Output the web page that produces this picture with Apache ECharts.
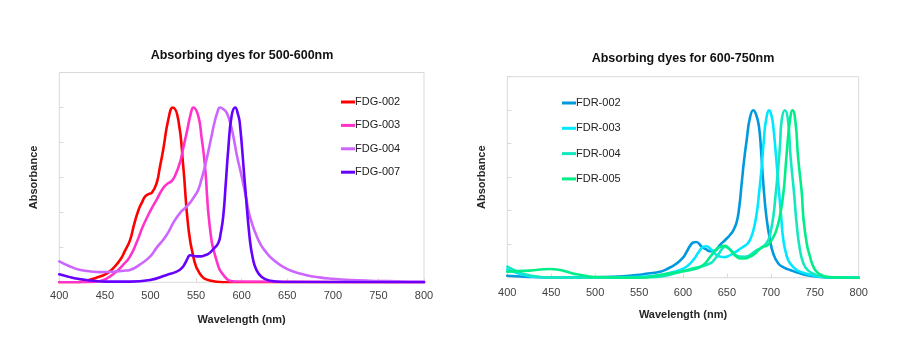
<!DOCTYPE html>
<html>
<head>
<meta charset="utf-8">
<script src="https://cdn.jsdelivr.net/npm/echarts@6/dist/echarts.min.js"></script>
<style>
html,body{margin:0;padding:0;background:#fff;}
#c{width:908px;height:338px;}
</style>
</head>
<body>
<div id="c"></div>
<script>
// ---- Data ----
var titles = ['Absorbing dyes for 500-600nm', 'Absorbing dyes for 600-750nm'];
var xTicks = [400, 450, 500, 550, 600, 650, 700, 750, 800];
var xName = 'Wavelength (nm)';
var yName = 'Absorbance';

var namesG = ['FDG-002', 'FDG-003', 'FDG-004', 'FDG-007'];
var namesR = ['FDR-002', 'FDR-003', 'FDR-004', 'FDR-005'];

var fdg002X = [400, 420, 426, 440, 452, 460, 467, 472, 477.5, 482, 487, 491, 494, 498, 501.5, 506.8, 510, 514, 519.5, 524.5, 530.5, 536, 541.4, 547, 554, 565, 580, 800];
var fdg002Y = [0, 0, 0.005, 0.025, 0.05, 0.085, 0.13, 0.18, 0.24, 0.33, 0.415, 0.46, 0.49, 0.505, 0.512, 0.568, 0.65, 0.76, 0.93, 1.0, 0.93, 0.66, 0.32, 0.147, 0.05, 0.01, 0, 0];

var fdg003X = [400, 430, 445, 460, 470, 477.5, 485, 491.7, 500, 506.8, 514, 519, 523, 527, 532.3, 536, 539.7, 544, 547, 552.4, 556, 559.8, 565, 572.3, 581.4, 592, 800];
var fdg003Y = [0, 0, 0.008, 0.05, 0.1, 0.147, 0.23, 0.32, 0.41, 0.473, 0.54, 0.565, 0.578, 0.61, 0.684, 0.77, 0.856, 0.96, 1.0, 0.952, 0.83, 0.664, 0.32, 0.128, 0.032, 0.005, 0];

var fdg004X = [400, 410, 422, 435, 445, 458, 470, 477.5, 488, 499.5, 507, 514, 520, 525, 532.3, 538, 543.3, 548, 552.4, 556, 559.8, 563.5, 567, 570, 573.3, 576.2, 580, 583.5, 587, 590.8, 595, 600, 605, 609, 618, 627, 635, 645, 655, 670, 685, 700, 720, 740, 760, 780, 800];
var fdg004Y = [0.12, 0.095, 0.072, 0.062, 0.058, 0.06, 0.066, 0.071, 0.1, 0.147, 0.2, 0.243, 0.29, 0.34, 0.396, 0.425, 0.454, 0.49, 0.53, 0.59, 0.664, 0.75, 0.837, 0.91, 0.971, 1.0, 0.99, 0.97, 0.92, 0.837, 0.72, 0.607, 0.48, 0.377, 0.245, 0.17, 0.128, 0.09, 0.065, 0.042, 0.028, 0.02, 0.013, 0.009, 0.007, 0.005, 0.004];

var fdg007X = [400, 410, 420, 435, 450, 477.5, 499.5, 517.8, 528.7, 534, 538, 541, 543.3, 547, 550.6, 555, 559.8, 564, 568.9, 574.4, 577, 579.8, 582.5, 585.3, 589, 593, 596, 598, 603.5, 609, 612.5, 616.3, 622, 630, 645, 800];
var fdg007Y = [0.046, 0.032, 0.02, 0.01, 0.004, 0.004, 0.013, 0.042, 0.061, 0.08, 0.109, 0.14, 0.155, 0.152, 0.148, 0.148, 0.155, 0.165, 0.19, 0.225, 0.28, 0.377, 0.56, 0.76, 0.952, 1.0, 0.96, 0.91, 0.568, 0.243, 0.13, 0.07, 0.03, 0.01, 0.002, 0];

var fdr002X = [400, 420, 450, 480, 500, 520, 547, 560, 573.8, 583, 592.8, 600, 604.2, 608, 611.7, 615, 621.3, 626, 630.7, 636, 642, 648, 653.5, 657, 661, 664, 666.8, 669.5, 672.5, 676, 680, 683.5, 686.5, 689, 691.4, 695, 699, 703, 708.5, 715, 721.8, 733.2, 745, 760, 780, 800];
var fdr002Y = [0.012, 0.006, 0.002, 0.002, 0.002, 0.005, 0.016, 0.025, 0.035, 0.055, 0.085, 0.12, 0.155, 0.19, 0.21, 0.213, 0.185, 0.17, 0.158, 0.16, 0.195, 0.225, 0.255, 0.28, 0.33, 0.42, 0.563, 0.7, 0.822, 0.95, 1.0, 0.97, 0.901, 0.75, 0.563, 0.36, 0.225, 0.14, 0.085, 0.06, 0.046, 0.026, 0.012, 0.003, 0, 0];

var fdr003X = [400, 410, 420, 430, 450, 500, 550, 574, 590, 596.6, 605, 611.7, 617.5, 623.1, 627, 630.7, 634.5, 638.3, 643, 647.8, 652, 657.3, 663, 668.6, 673, 676.2, 680, 683.9, 686.5, 689.6, 692, 694.5, 698.2, 701, 702.8, 705.5, 708.5, 711.5, 714.2, 718, 721.8, 729.4, 737, 745, 756, 770, 800];
var fdr003Y = [0.05, 0.03, 0.015, 0.006, 0.002, 0, 0.005, 0.016, 0.035, 0.046, 0.07, 0.106, 0.15, 0.185, 0.188, 0.175, 0.155, 0.135, 0.125, 0.123, 0.13, 0.145, 0.165, 0.185, 0.2, 0.225, 0.28, 0.384, 0.5, 0.662, 0.82, 0.94, 1.0, 0.96, 0.901, 0.75, 0.563, 0.38, 0.225, 0.13, 0.086, 0.046, 0.03, 0.018, 0.006, 0.001, 0];

var fdr004X = [400, 410, 420, 435, 450, 500, 550, 573.8, 590, 611.7, 630.7, 636, 641, 645, 648, 652, 655.4, 660, 665, 670, 674.4, 679, 683.9, 691.4, 697.1, 700, 702.8, 705.5, 708.5, 710.5, 712.3, 716, 719.5, 722.5, 726.5, 729.4, 733, 737, 742, 750, 760, 775, 800];
var fdr004Y = [0.066, 0.04, 0.02, 0.006, 0.002, 0, 0.002, 0.006, 0.025, 0.056, 0.085, 0.11, 0.145, 0.175, 0.185, 0.175, 0.16, 0.135, 0.126, 0.125, 0.13, 0.145, 0.165, 0.185, 0.225, 0.28, 0.364, 0.5, 0.662, 0.8, 0.94, 1.0, 0.94, 0.72, 0.5, 0.32, 0.17, 0.086, 0.045, 0.02, 0.006, 0.001, 0];

var fdr005X = [400, 425, 448, 460, 470, 479, 490, 500, 550, 574, 596.6, 612, 623, 631, 638, 643, 648, 652, 655.4, 660, 665, 670, 676, 681, 686, 691, 695, 699, 702, 706, 710, 714.2, 718, 721.5, 724.8, 728, 731, 735.3, 737, 741, 744.6, 748, 752, 758, 764, 780, 800];
var fdr005Y = [0.036, 0.042, 0.052, 0.046, 0.032, 0.02, 0.01, 0.004, 0, 0.016, 0.036, 0.05, 0.075, 0.125, 0.17, 0.185, 0.19, 0.175, 0.155, 0.13, 0.115, 0.115, 0.125, 0.14, 0.165, 0.185, 0.19, 0.21, 0.235, 0.28, 0.36, 0.5, 0.74, 0.93, 1.0, 0.93, 0.72, 0.5, 0.36, 0.2, 0.125, 0.07, 0.036, 0.015, 0.005, 0.001, 0];

var colorsG = ['#ff0000', '#ff33cc', '#cc66ff', '#6600ff'];
var colorsR = ['#0099dd', '#00e8ff', '#14e8c0', '#00ee88'];

// ---- Build ----
function zip(xs, ys) { return xs.map(function (x, i) { return [x, ys[i]]; }); }
var seriesG = [zip(fdg002X, fdg002Y), zip(fdg003X, fdg003Y), zip(fdg004X, fdg004Y), zip(fdg007X, fdg007Y)];
var seriesR = [zip(fdr002X, fdr002Y), zip(fdr003X, fdr003Y), zip(fdr004X, fdr004Y), zip(fdr005X, fdr005Y)];

var FONT = '"Liberation Sans", Arial, sans-serif';

function xAxisFor(idx, margin) {
  return {
    type: 'value', gridIndex: idx, min: xTicks[0], max: xTicks[xTicks.length - 1], interval: 50,
    axisLine: { show: false },
    axisTick: { show: true, inside: true, length: 4, lineStyle: { color: '#d9d9d9' } },
    splitLine: { show: false },
    axisLabel: { fontSize: 11, color: '#404040', fontFamily: FONT, margin: margin },
    name: xName, nameLocation: 'middle', nameGap: 32,
    nameTextStyle: { fontSize: 11, fontWeight: 'bold', color: '#262626', fontFamily: FONT }
  };
}
function yAxisFor(idx) {
  return {
    type: 'value', gridIndex: idx, min: 0, max: 1.2, interval: 0.2,
    axisLine: { show: false },
    axisTick: { show: true, inside: true, length: 4, lineStyle: { color: '#d9d9d9' } },
    splitLine: { show: false },
    axisLabel: { show: false },
    name: yName, nameLocation: 'middle', nameGap: 20, nameRotate: 90,
    nameTextStyle: { fontSize: 11, fontWeight: 'bold', color: '#262626', fontFamily: FONT }
  };
}

var series = [];
namesG.forEach(function (n, i) {
  series.push({ name: n, type: 'line', xAxisIndex: 0, yAxisIndex: 0, data: seriesG[i],
    smooth: 0.5, showSymbol: false, symbol: 'none',
    lineStyle: { width: 2.6, color: colorsG[i], join: 'round', cap: 'round' }, itemStyle: { color: colorsG[i] } });
});
namesR.forEach(function (n, i) {
  series.push({ name: n, type: 'line', xAxisIndex: 1, yAxisIndex: 1, data: seriesR[i],
    smooth: 0.5, showSymbol: false, symbol: 'none',
    lineStyle: { width: 2.6, color: colorsR[i], join: 'round', cap: 'round' }, itemStyle: { color: colorsR[i] } });
});

var legendText = { fontSize: 11, color: '#222', fontFamily: FONT, lineHeight: 14, padding: [0, 0, 0, -5] };

var option = {
  animation: false,
  backgroundColor: '#ffffff',
  title: [
    { text: titles[0], left: 237, top: 44, textAlign: 'center',
      textStyle: { fontSize: 12.5, fontWeight: 'bold', color: '#111', fontFamily: FONT } },
    { text: titles[1], left: 678, top: 47, textAlign: 'center',
      textStyle: { fontSize: 12.5, fontWeight: 'bold', color: '#111', fontFamily: FONT } }
  ],
  legend: [
    { data: namesG, orient: 'vertical', left: 336, top: 90, itemGap: 9.4,
      icon: 'rect', itemWidth: 14, itemHeight: 3, textStyle: legendText, selectedMode: false },
    { data: namesR, orient: 'vertical', left: 557, top: 91, itemGap: 11.3,
      icon: 'rect', itemWidth: 14, itemHeight: 3, textStyle: legendText, selectedMode: false }
  ],
  grid: [
    { left: 59.3, top: 72.5, width: 364.7, height: 209.8, show: true, borderColor: '#d9d9d9', borderWidth: 1, backgroundColor: 'transparent' },
    { left: 507.3, top: 76.7, width: 351.4, height: 201, show: true, borderColor: '#d9d9d9', borderWidth: 1, backgroundColor: 'transparent' }
  ],
  xAxis: [xAxisFor(0, 8), xAxisFor(1, 10)],
  yAxis: [yAxisFor(0), yAxisFor(1)],
  series: series
};

var chart = echarts.init(document.getElementById('c'), null, { renderer: 'canvas' });
chart.setOption(option);
</script>
</body>
</html>
